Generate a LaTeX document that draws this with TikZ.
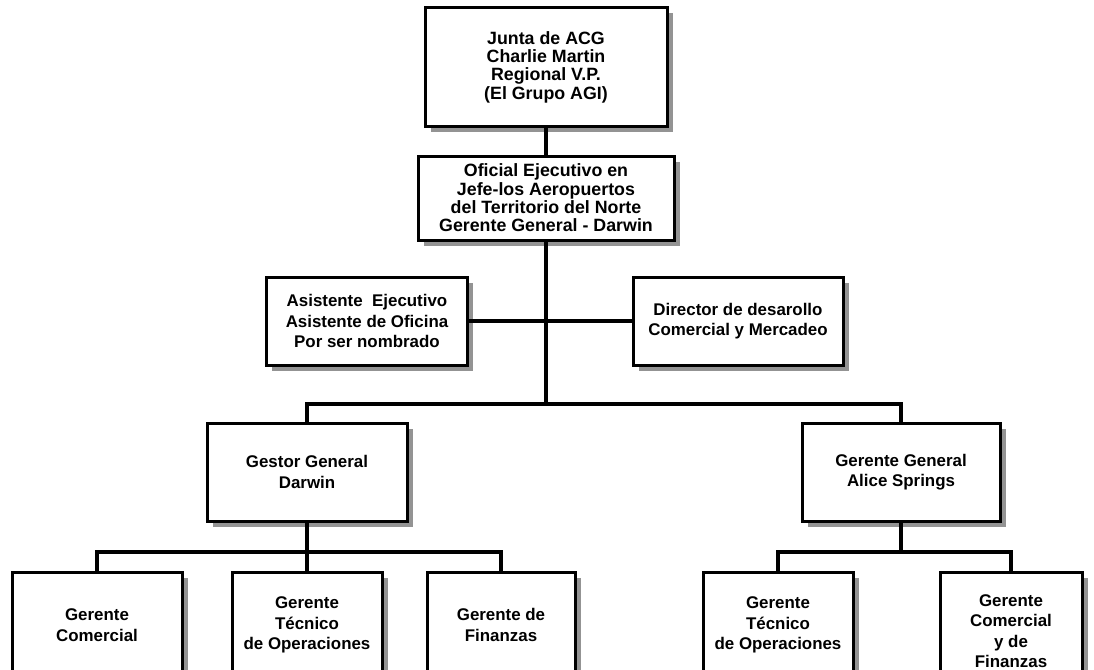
\documentclass[tikz,border=0pt]{standalone}
\usepackage{fontspec}
\setmainfont{Liberation Sans}
\usetikzlibrary{shadows}

\begin{document}
\begin{tikzpicture}[x=1pt, y=-1pt,
  every node/.style = {shape=rectangle, draw, line width=3pt, fill=white,
    align=center, inner sep=0pt,
    font=\bfseries\fontsize{16.9}{20.5}\selectfont,
    drop shadow={shadow xshift=5.5pt, shadow yshift=-5.5pt, fill=gray!85, opacity=1}},
  topbox/.style = {font=\bfseries\fontsize{17.8}{18.4}\selectfont},
  connector/.style = {line width=3.2pt, line join=miter}]
  \path[use as bounding box, fill=white] (0,0) rectangle (1094,669);

  % upper levels
  \node[topbox, minimum width=242pt, minimum height=118pt] (junta) at (546,67)
    {Junta de ACG\\Charlie Martin\\Regional V.P.\\(El Grupo AGI)};
  \node[topbox, minimum width=256pt, minimum height=84pt] (oficial) at (546,198)
    {Oficial Ejecutivo en\\Jefe-los Aeropuertos\\del Territorio del Norte\\Gerente General - Darwin};
  \node[minimum width=201pt, minimum height=88pt] (asist) at (367,321)
    {Asistente\ \ Ejecutivo\\Asistente de Oficina\\Por ser nombrado};
  \node[minimum width=210pt, minimum height=88pt] (director) at (738,321)
    {Director de desarollo\\Comercial y Mercadeo};
  \node[minimum width=200pt, minimum height=98pt] (gestor) at (307,472)
    {Gestor General\\Darwin};
  \node[minimum width=198pt, minimum height=98pt] (alice) at (901,472)
    {Gerente General\\Alice Springs};

  % lowest level
  \node[minimum width=170pt, minimum height=106pt] (comercial) at (97,625)
    {Gerente\\Comercial};
  \node[minimum width=150pt, minimum height=106pt] (tecnicoD) at (307,625)
    {Gerente\\Técnico\\de Operaciones};
  \node[minimum width=148pt, minimum height=106pt] (finanzas) at (501,625)
    {Gerente de\\Finanzas};
  \node[minimum width=150pt, minimum height=106pt] (tecnicoA) at (778,625)
    {Gerente\\Técnico\\de Operaciones};
  \node[minimum width=142pt, minimum height=118pt] (comfin) at (1011,631)
    {Gerente\\Comercial\\y de\\Finanzas};

  % connectors
  \coordinate (bus) at (546,404);
  \coordinate (lbus) at (307,552);
  \coordinate (rbus) at (901,552);
  \draw[connector] (junta) -- (oficial);
  \draw[connector] (oficial) -- (bus);
  \draw[connector] (asist.east) -- (director.west);
  \draw[connector] (gestor.north) |- (bus) -| (alice.north);
  \draw[connector] (gestor) -- (tecnicoD);
  \draw[connector] (comercial.north) |- (lbus) -| (finanzas.north);
  \draw[connector] (alice) -- (rbus);
  \draw[connector] (tecnicoA.north) |- (rbus) -| (comfin.north);
\end{tikzpicture}
\end{document}
